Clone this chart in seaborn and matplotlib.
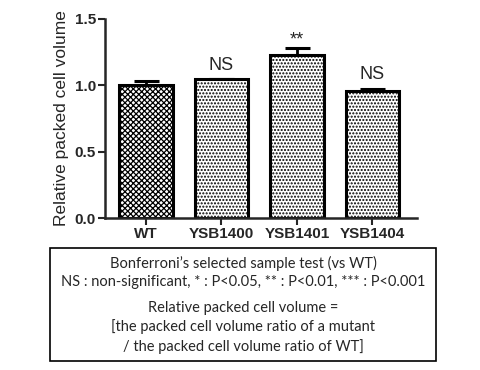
import numpy as np
import pandas as pd
import matplotlib.pyplot as plt
import seaborn as sns
from matplotlib.patches import Rectangle

strains = ['WT', 'YSB1400', 'YSB1401', 'YSB1404']
volume = [1.00, 1.045, 1.225, 0.96]
sem = [0.03, 0.0, 0.06, 0.015]
signif = ['', 'NS', '**', 'NS']

df = pd.DataFrame({'strain': strains, 'volume': volume})

sns.set_style('ticks')
plt.rcParams['font.family'] = ['Liberation Sans', 'DejaVu Sans']

fig = plt.figure(figsize=(4.8, 3.7), dpi=100)
ax = fig.add_axes([105 / 480, 1 - 218 / 370, 312 / 480, 199 / 370])

sns.barplot(data=df, x='strain', y='volume', ax=ax, color='white',
            width=0.71, edgecolor='black', linewidth=2.2, errorbar=None)

plt.rcParams['hatch.linewidth'] = 0.4
hatches = ['xxxxxx', '.....', '.....', '.....']
for bar, h in zip(ax.patches, hatches):
    bar.set_hatch(h)
    bar.set_zorder(2)
# darker checkerboard for WT
if hasattr(ax.patches[0], 'set_hatch_linewidth'):
    ax.patches[0].set_hatch_linewidth(0.9)

ax.errorbar(range(len(strains)), volume, yerr=[np.zeros(len(sem)), sem],
            fmt='none', ecolor='black', elinewidth=2, capsize=9, capthick=2.2,
            zorder=1)

for i, (v, e, s) in enumerate(zip(volume, sem, signif)):
    if s == '**':
        # asterisks sit high in the glyph box
        ax.text(i, v + e - 0.01, s, ha='center', va='bottom', fontsize=13)
    elif s:
        ax.text(i, v + e + 0.04, s, ha='center', va='bottom', fontsize=13)

ax.set_xlim(-0.54, 3.59)
ax.set_ylim(0, 1.5)
ax.set_yticks([0.0, 0.5, 1.0, 1.5])
ax.set_yticklabels(['0.0', '0.5', '1.0', '1.5'], fontweight='bold', fontsize=11)
ax.set_xticks(range(len(strains)))
ax.set_xticklabels(strains, fontweight='bold', fontsize=11)
ax.set_xlabel('')
ax.set_ylabel('Relative packed cell volume', fontsize=12.5, labelpad=4)
sns.despine(ax=ax)
for sp in ['left', 'bottom']:
    ax.spines[sp].set_linewidth(1.8)
ax.tick_params(axis='both', width=1.5, length=5, pad=1.5)

# note box under the chart
fig.patches.append(Rectangle((50 / 480, 1 - 361 / 370), 386 / 480, 113 / 370,
                             transform=fig.transFigure, fill=False,
                             edgecolor='black', linewidth=1.2))
notes = ['Bonferroni\u2019s selected sample test (vs WT)',
         'NS : non-significant, * : P<0.05, ** : P<0.01, *** : P<0.001',
         'Relative packed cell volume =',
         '[the packed cell volume ratio of a mutant',
         '/ the packed cell volume ratio of WT]']
note_y = [263, 282, 308, 327, 347]
for t, y in zip(notes, note_y):
    fig.text(243 / 480, 1 - y / 370, t, ha='center', va='center',
             fontsize=10.5, family=['Lato', 'DejaVu Sans'])

fig.savefig('out.png', dpi=100)
